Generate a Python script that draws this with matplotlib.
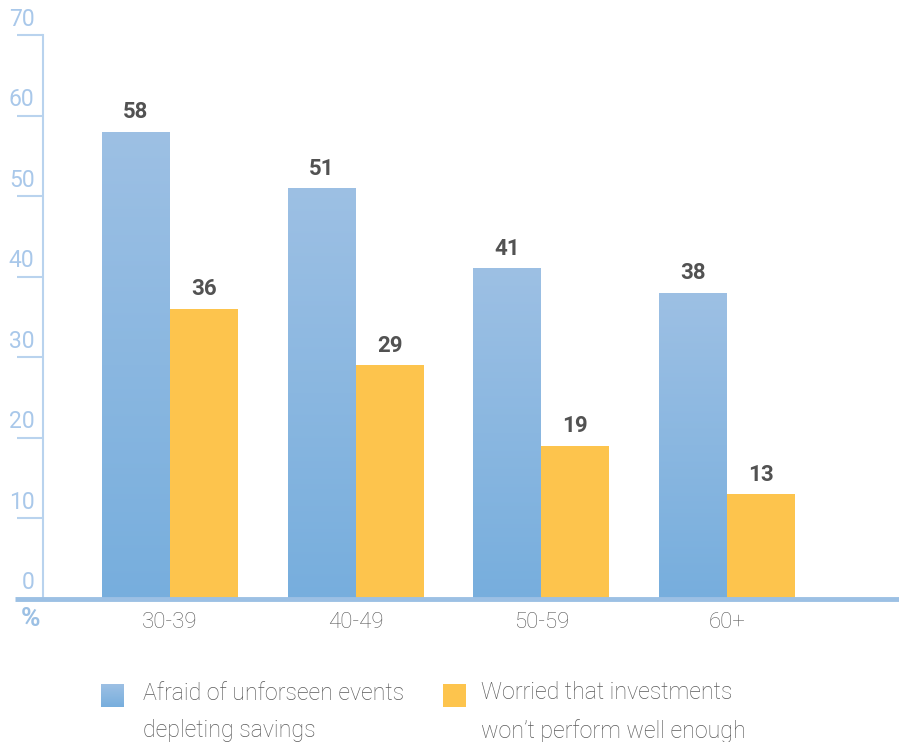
import numpy as np
import matplotlib
matplotlib.use("Agg")
import matplotlib.pyplot as plt
from matplotlib.patches import Rectangle
from matplotlib.colors import LinearSegmentedColormap
from matplotlib import transforms

# Data
age_groups = ["30-39", "40-49", "50-59", "60+"]
afraid_unforeseen = [58, 51, 41, 38]
worried_investments = [36, 29, 19, 13]
y_ticks = [0, 10, 20, 30, 40, 50, 60, 70]
legend_labels = ["Afraid of unforseen events\ndepleting savings",
                 "Worried that investments\nwon\u2019t perform well enough"]

BLUE_TOP = "#9dc0e4"
BLUE_BOTTOM = "#77aedd"
ORANGE = "#fdc44d"
AXIS_BLUE = "#b9d3ee"
TICK_TEXT = "#a9c8ea"
BASE_BLUE = "#9cc0e4"
DARK = "#525252"
GRAY = "#5a5a5a"

plt.rcParams["font.family"] = ["Roboto", "DejaVu Sans"]

W, H = 899, 742
fig = plt.figure(figsize=(W / 100, H / 100), dpi=100)

left_px, right_px = 43, 899
top_px, bottom_px = 35, 598.5
ax = fig.add_axes([left_px / W, (H - bottom_px) / H,
                   (right_px - left_px) / W, (bottom_px - top_px) / H])

spacing_px = 185.7
xmin = -(170 - left_px) / spacing_px
xmax = xmin + (right_px - left_px) / spacing_px
bar_w = 68 / spacing_px

x = np.arange(len(age_groups))

# Orange bars
ax.bar(x + bar_w / 2, worried_investments, width=bar_w, color=ORANGE, zorder=2)

# Blue bars with a vertical gradient
cmap = LinearSegmentedColormap.from_list("bluegrad", [BLUE_BOTTOM, BLUE_TOP])
grad = np.linspace(0, 1, 256).reshape(-1, 1)
blue_bars = ax.bar(x - bar_w / 2, afraid_unforeseen, width=bar_w,
                   color="none", zorder=2)
for rect in blue_bars:
    x0, h, w = rect.get_x(), rect.get_height(), rect.get_width()
    im = ax.imshow(grad, extent=[x0, x0 + w, 0, h], origin="lower",
                   cmap=cmap, aspect="auto", zorder=2)
    im.set_clip_path(rect)

ax.set_xlim(xmin, xmax)
ax.set_ylim(0, 70)

# Value labels
for xs, vals in [(x - bar_w / 2, afraid_unforeseen),
                 (x + bar_w / 2, worried_investments)]:
    for xi, v in zip(xs, vals):
        ax.annotate(str(v), (xi, v), xytext=(0, 6),
                    textcoords="offset points", ha="center", va="bottom",
                    fontsize=16, fontweight="bold", color=DARK)

# Axes styling
for s in ["top", "right", "bottom"]:
    ax.spines[s].set_visible(False)
ax.spines["left"].set_color(AXIS_BLUE)
ax.spines["left"].set_linewidth(1.5)
ax.set_yticks(y_ticks)
ax.tick_params(axis="y", length=19, width=1.5, color=AXIS_BLUE,
               labelleft=False)
ax.set_xticks([])

# Y tick labels sit above their tick lines
ytrans = transforms.blended_transform_factory(fig.transFigure, ax.transData)
for t in y_ticks:
    ax.annotate(str(t), (34.5 / W, t), xycoords=ytrans, xytext=(0, 3),
                textcoords="offset points", ha="right", va="bottom",
                fontsize=16.5, color=TICK_TEXT, fontweight="normal")

# Thick baseline
ax.plot([15 / W, 1.0], [0, 0], transform=ytrans, color=BASE_BLUE,
        lw=3.5, clip_on=False, zorder=3, solid_capstyle="butt")

# Category labels
for xi, lab in zip(x, age_groups):
    ax.annotate(lab, (xi, 0), xytext=(0, -10), textcoords="offset points",
                ha="center", va="top", fontsize=16, color=GRAY,
                fontweight="light")

fig.text(30.5 / W, 1 - 619 / H, "%", ha="center", va="center", fontsize=19,
         fontweight="bold", color=BASE_BLUE)

# Legend
for (sx, tx), lab, col in zip([(101, 143), (443, 481)], legend_labels,
                              [None, ORANGE]):
    if col is None:
        ax_sq = fig.add_axes([sx / W, 1 - 707 / H, 23 / W, 23 / H])
        ax_sq.imshow(grad, origin="lower", cmap=cmap, aspect="auto",
                     extent=[0, 1, 0, 1])
        ax_sq.axis("off")
    else:
        fig.patches.append(Rectangle((sx / W, 1 - 707 / H), 23 / W, 23 / H,
                                     transform=fig.transFigure,
                                     facecolor=col, edgecolor="none"))
    fig.text(tx / W, 1 - 712 / H, lab, ha="left", va="center",
             fontsize=16.7, color=GRAY, fontweight="light",
             linespacing=1.75)

fig.savefig("out.png", dpi=100)
